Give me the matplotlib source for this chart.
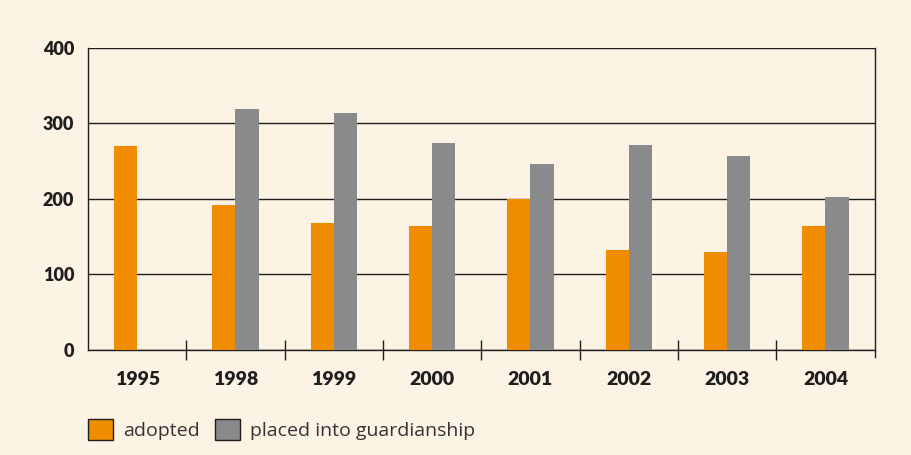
import matplotlib
matplotlib.use("Agg")
import matplotlib.pyplot as plt
from matplotlib.patches import Patch
import numpy as np

years = ["1995", "1998", "1999", "2000", "2001", "2002", "2003", "2004"]
adopted = [270, 192, 168, 164, 200, 132, 130, 164]
guardianship = [np.nan, 319, 314, 274, 246, 271, 257, 203]
y_ticks = [0, 100, 200, 300, 400]

bg = "#FDF3E5"
orange = "#F08C00"
grey = "#898A8C"
ink = "#1E1E1E"

plt.rcParams["font.family"] = ["Lato", "DejaVu Sans"]

fig = plt.figure(figsize=(9.12, 4.55), dpi=100, facecolor=bg)
ax = fig.add_axes([0.0965, 0.231, 0.8625, 0.6635], facecolor=bg)

x = np.arange(len(years))
w = 0.235
ax.bar(x - w / 2, adopted, width=w, color=orange, zorder=3)
ax.bar(x + w / 2, guardianship, width=w, color=grey, zorder=3)

ax.set_xlim(-0.5, len(years) - 0.5)
ax.set_ylim(0, 400)
ax.set_yticks(y_ticks)
ax.set_yticklabels([str(v) for v in y_ticks], fontsize=13, fontweight="heavy", color=ink)
ax.tick_params(axis="y", length=0, pad=10)
ax.yaxis.grid(True, color=ink, linewidth=1.0, zorder=1)

ax.set_xticks(x)
ax.set_xticklabels(years, fontsize=14, fontweight="heavy", color=ink)
ax.tick_params(axis="x", which="major", length=0, pad=15)
ax.set_xticks(np.arange(0.5, len(years) - 0.5, 1), minor=True)
ax.tick_params(axis="x", which="minor", length=15, direction="inout", color=ink, width=1.0)

for side in ["left", "bottom", "right", "top"]:
    ax.spines[side].set_color(ink)
    ax.spines[side].set_linewidth(1.0)
ax.spines["top"].set_visible(False)
ax.spines["right"].set_bounds(-10, 400)

handles = [Patch(facecolor=orange, edgecolor=ink, linewidth=1.0),
           Patch(facecolor=grey, edgecolor=ink, linewidth=1.0)]
fig.legend(handles, ["adopted", "placed into guardianship"],
           loc="lower left", bbox_to_anchor=(0.077, -0.005), ncol=2, frameon=False,
           prop={"family": ["Open Sans", "DejaVu Sans"], "size": 14},
           handlelength=1.3, handleheight=1.3, handletextpad=0.5,
           columnspacing=0.8, labelcolor="#333333")

fig.savefig("out.png", dpi=100, facecolor=bg)
